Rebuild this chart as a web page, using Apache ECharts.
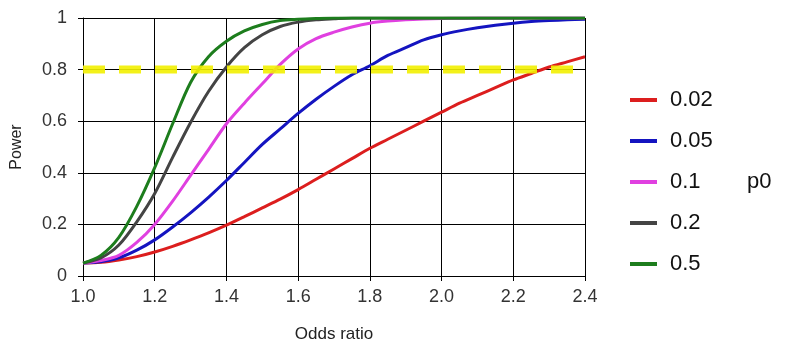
<!DOCTYPE html>
<html>
<head>
<meta charset="utf-8">
<script src="https://cdn.jsdelivr.net/npm/echarts@6/dist/echarts.min.js"></script>
<style>
  html, body { margin: 0; padding: 0; background: #fff; }
  #chart { width: 785px; height: 346px; }
</style>
</head>
<body>
<div id="chart"></div>
<script>
// odds ratio grid shared by every curve
var oddsRatio = [1.00, 1.05, 1.10, 1.15, 1.20, 1.25, 1.30, 1.35, 1.40, 1.45,
  1.50, 1.55, 1.60, 1.65, 1.70, 1.75, 1.80, 1.85, 1.90, 1.95,
  2.00, 2.05, 2.10, 2.15, 2.20, 2.25, 2.30, 2.35, 2.40];

// power, one array per p0
var power002 = [0.050, 0.053, 0.062, 0.075, 0.093, 0.115, 0.140, 0.167, 0.197, 0.230,
  0.264, 0.298, 0.335, 0.375, 0.415, 0.455, 0.495, 0.530, 0.565, 0.600,
  0.635, 0.670, 0.700, 0.730, 0.760, 0.785, 0.810, 0.830, 0.850];
var power005 = [0.050, 0.055, 0.070, 0.100, 0.140, 0.190, 0.245, 0.305, 0.370, 0.440,
  0.510, 0.570, 0.630, 0.685, 0.735, 0.780, 0.815, 0.855, 0.885, 0.915,
  0.935, 0.950, 0.962, 0.972, 0.980, 0.986, 0.990, 0.993, 0.995];
var power01 = [0.050, 0.060, 0.080, 0.130, 0.200, 0.290, 0.390, 0.490, 0.590, 0.670,
  0.745, 0.820, 0.880, 0.920, 0.945, 0.965, 0.980, 0.988, 0.993, 0.996,
  0.998, 0.999, 1.000, 1.000, 1.000, 1.000, 1.000, 1.000, 1.000];
var power02 = [0.050, 0.070, 0.120, 0.210, 0.320, 0.460, 0.595, 0.715, 0.810, 0.885,
  0.935, 0.967, 0.984, 0.993, 0.997, 1.000, 1.000, 1.000, 1.000, 1.000,
  1.000, 1.000, 1.000, 1.000, 1.000, 1.000, 1.000, 1.000, 1.000];
var power05 = [0.050, 0.080, 0.150, 0.270, 0.420, 0.590, 0.750, 0.850, 0.910, 0.950,
  0.975, 0.990, 0.995, 0.998, 1.000, 1.000, 1.000, 1.000, 1.000, 1.000,
  1.000, 1.000, 1.000, 1.000, 1.000, 1.000, 1.000, 1.000, 1.000];

var p0Labels = ["0.02", "0.05", "0.1", "0.2", "0.5"];
var p0Colors = ["#dc1e1e", "#1414c0", "#e040e0", "#444444", "#1d7d1d"];
var targetPower = 0.8;

function pairs(ys) {
  return oddsRatio.map(function (x, i) { return [x, ys[i]]; });
}

var chart = echarts.init(document.getElementById("chart"));
var curves = [power002, power005, power01, power02, power05];

var series = curves.map(function (ys, i) {
  return {
    name: p0Labels[i],
    type: "line",
    data: pairs(ys),
    smooth: 0.3,
    symbol: "none",
    lineStyle: { width: 3, color: p0Colors[i] },
    itemStyle: { color: p0Colors[i] },
    z: 3
  };
});

// yellow 80% target line
series.push({
  name: "target",
  type: "line",
  data: [[oddsRatio[0], targetPower], [oddsRatio[oddsRatio.length - 1], targetPower]],
  symbol: "none",
  lineStyle: { width: 8, color: "#f2ef00", type: [22, 14], opacity: 0.9 },
  z: 4
});

chart.setOption({
  animation: false,
  textStyle: { fontFamily: "Liberation Sans, Arial, sans-serif" },
  grid: { left: 83, right: 200, top: 18, bottom: 70, outerBoundsMode: "none" },
  legend: {
    data: p0Labels,
    orient: "vertical",
    left: 630,
    top: 89,
    padding: 0,
    icon: "rect",
    itemWidth: 27,
    itemHeight: 4,
    itemGap: 19,
    textStyle: { fontSize: 22, lineHeight: 22, color: "#111", padding: [0, 0, 0, 8] }
  },
  graphic: [{
    type: "text",
    left: 747,
    top: 171,
    style: { text: "p0", fontSize: 22, fill: "#111", fontFamily: "Liberation Sans, Arial, sans-serif" }
  }],
  xAxis: {
    type: "value",
    min: 1,
    max: 2.4,
    interval: 0.2,
    name: "Odds ratio",
    nameLocation: "middle",
    nameGap: 50,
    nameTextStyle: { fontSize: 17, color: "#222" },
    axisLine: { lineStyle: { color: "#000", width: 1 } },
    axisTick: { show: true, length: 5, lineStyle: { color: "#000" } },
    axisLabel: { fontSize: 18, color: "#333", margin: 12, formatter: function (v) { return v.toFixed(1); } },
    splitLine: { show: true, lineStyle: { color: "#000", width: 1 } }
  },
  yAxis: {
    type: "value",
    min: 0,
    max: 1,
    interval: 0.2,
    name: "Power",
    nameLocation: "middle",
    nameGap: 58,
    nameTextStyle: { fontSize: 16, color: "#222" },
    axisLine: { show: true, lineStyle: { color: "#000", width: 1 } },
    axisTick: { show: true, length: 5, lineStyle: { color: "#000" } },
    axisLabel: { fontSize: 18, color: "#333", margin: 16 },
    splitLine: { show: true, lineStyle: { color: "#000", width: 1 } }
  },
  series: series
});
</script>
</body>
</html>
